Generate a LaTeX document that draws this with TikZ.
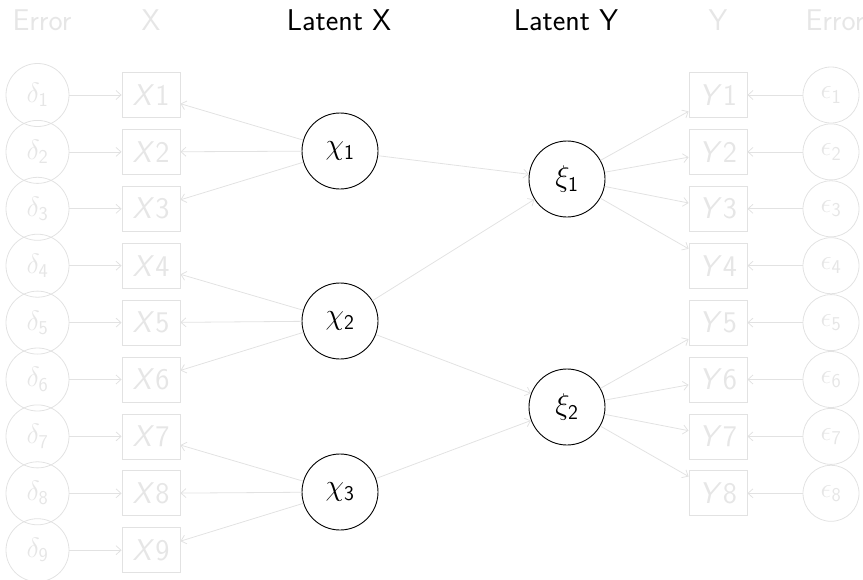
\RequirePackage{fix-cm}
\documentclass[tikz,border=0pt]{standalone}
\usepackage{amsmath}
\usetikzlibrary{arrows.meta}
\definecolor{faint}{HTML}{E2E2E2}
\definecolor{fainttext}{HTML}{E6E6E6}
\begin{document}
\begin{tikzpicture}[x=1pt,y=-1pt,
  font=\sffamily,
  hdr/.style={font=\sffamily\fontsize{30}{36}\selectfont, anchor=center},
  nfont/.style={font=\sffamily\fontsize{30}{36}\selectfont},
  efont/.style={font=\sffamily\fontsize{28}{34}\selectfont},
  errc/.style={circle, draw=faint, line width=0.8pt, inner sep=0pt, minimum size=63pt, text=fainttext, efont},
  errcy/.style={circle, draw=faint, line width=0.8pt, inner sep=0pt, minimum size=56pt, text=fainttext, efont},
  obs/.style={rectangle, draw=faint, line width=0.8pt, inner sep=0pt, minimum width=58pt, minimum height=45pt, text=fainttext, nfont},
  lat/.style={circle, draw=black, line width=0.9pt, inner sep=0pt, minimum size=76pt, font=\sffamily\fontsize{30}{36}\selectfont},
  arr/.style={draw=faint, line width=0.8pt, -{Straight Barb[length=5pt,width=9pt]}}
]
\useasboundingbox (0,0) rectangle (863,579);
% headers
\node[hdr, text=fainttext] (h1) at (42,20) {Error};
\node[hdr, text=fainttext] (h2) at (151,20) {X};
\node[hdr] (h3) at (339,20) {Latent X};
\node[hdr] (h4) at (566,20) {Latent Y};
\node[hdr, text=fainttext] (h5) at (718,20) {Y};
\node[hdr, text=fainttext] (h6) at (835,20) {Error};
% X side
\foreach \i in {1,...,9}{
  \node[errc] (d\i) at (37.5,{95+56.9*(\i-1)}) {$\delta_{\textsf{\i}}$};
  \node[obs] (x\i) at (151,{95+56.9*(\i-1)}) {\textsl{X}\kern1pt\i};
  \draw[arr] (d\i) -- (x\i);
}
% Y side
\foreach \i in {1,...,8}{
  \node[errcy] (e\i) at (831,{95+56.9*(\i-1)}) {$\epsilon_{\textsf{\i}}$};
  \node[obs] (y\i) at (718,{95+56.9*(\i-1)}) {\textsl{Y}\kern1pt\i};
  \draw[arr] (e\i) -- (y\i);
}
% latent
\node[lat] (c1) at (340,151) {$\chi_{\textsf{1}}$};
\node[lat] (c2) at (340,321) {$\chi_{\textsf{2}}$};
\node[lat] (c3) at (340,492) {$\chi_{\textsf{3}}$};
\node[lat] (k1) at (567,179) {$\xi_{\textsf{1}}$};
\node[lat] (k2) at (567,407) {$\xi_{\textsf{2}}$};
% loadings
\foreach \t in {x1,x2,x3}{\draw[arr] (c1) -- (\t);}
\foreach \t in {x4,x5,x6}{\draw[arr] (c2) -- (\t);}
\foreach \t in {x7,x8,x9}{\draw[arr] (c3) -- (\t);}
\foreach \t in {y1,y2,y3,y4}{\draw[arr] (k1) -- (\t);}
\foreach \t in {y5,y6,y7,y8}{\draw[arr] (k2) -- (\t);}
% structural
\draw[arr] (c1) -- (k1);
\draw[arr] (c2) -- (k1);
\draw[arr] (c2) -- (k2);
\draw[arr] (c3) -- (k2);
\end{tikzpicture}
\end{document}
